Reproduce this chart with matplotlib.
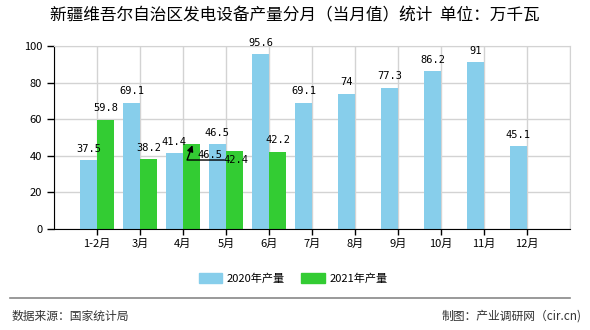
import matplotlib
matplotlib.use('Agg')
import matplotlib.pyplot as plt
import numpy as np
from matplotlib.patches import Patch
from matplotlib.lines import Line2D

plt.rcParams['font.family'] = ['Noto Sans CJK SC', 'DejaVu Sans']

# data
months = ['1-2月', '3月', '4月', '5月', '6月', '7月', '8月', '9月', '10月', '11月', '12月']
output_2020 = [37.5, 69.1, 41.4, 46.5, 95.6, 69.1, 74, 77.3, 86.2, 91, 45.1]
output_2021 = [59.8, 38.2, 46.5, 42.4, 42.2]

c2020 = '#87CEEB'
c2021 = '#33CC33'
w = 0.4

fig = plt.figure(figsize=(5.9, 3.3), dpi=100)
ax = fig.add_axes([54 / 590, 101 / 330, 516 / 590, 183 / 330])

x20 = np.arange(len(output_2020))
x21 = np.arange(len(output_2021))
ax.bar(x20 - w / 2, output_2020, width=w, color=c2020, zorder=2)
ax.bar(x21 + w / 2, output_2021, width=w, color=c2021, zorder=2)

ax.set_xlim(-1, len(months))
ax.set_ylim(0, 100)
ax.set_xticks(x20)
ax.set_xticklabels(months, fontsize=8)
ax.set_yticks(range(0, 101, 20))
ax.tick_params(axis='y', labelsize=8, length=5, width=1)
ax.tick_params(axis='x', length=4, width=1, pad=3)
ax.set_xticks(np.arange(-1, len(months) + 1), minor=True)
ax.grid(True, which='major', axis='both', color='#d3d3d3', lw=1, zorder=0)
ax.grid(True, which='minor', axis='x', color='#d3d3d3', lw=1, zorder=0)
ax.tick_params(which='minor', length=0)
for s in ['top', 'right']:
    ax.spines[s].set_color('#d3d3d3')
for s in ['left', 'bottom']:
    ax.spines[s].set_color('black')

lab = dict(ha='center', va='bottom', fontsize=7.5, family='DejaVu Sans Mono', zorder=4)
for i, v in enumerate(output_2020):
    ax.text(i - w / 2, v + 3.5, f'{v:g}', **lab)
for i, v in enumerate(output_2021):
    if i in (2, 3):
        continue
    ax.text(i + w / 2, v + 3.5, f'{v:g}', **lab)

# displaced labels for april / may 2021
ax.text(2.63, 40.5, f'{output_2021[2]:g}', **{**lab, 'va': 'center'})
ax.text(3.23, 37.8, f'{output_2021[3]:g}', **{**lab, 'va': 'center'})
ax.annotate('', xy=(2.22, 45.8), xytext=(2.96, 37.7),
            arrowprops=dict(arrowstyle='-|>', color='black', lw=1, mutation_scale=9,
                            connectionstyle='angle,angleA=0,angleB=70,rad=0',
                            shrinkA=0, shrinkB=0), zorder=5)

fig.text(295 / 590, 1 - 16 / 330, '新疆维吾尔自治区发电设备产量分月（当月值）统计  单位：万千瓦',
         ha='center', va='center', fontsize=12, color='black')

handles = [Patch(color=c2020, label='2020年产量'), Patch(color=c2021, label='2021年产量')]
fig.legend(handles=handles, loc='center', bbox_to_anchor=(293 / 590, 1 - 278 / 330),
           ncol=2, frameon=False, fontsize=8, handlelength=2.1, handleheight=1.0,
           columnspacing=1.5, handletextpad=0.4)

fig.add_artist(Line2D([10 / 590, 570 / 590], [1 - 298 / 330, 1 - 298 / 330],
                      color='#888888', lw=1.2))
fig.text(12 / 590, 1 - 316 / 330, '数据来源：国家统计局', ha='left', va='center',
         fontsize=8.5, color='#333333')
fig.text(582 / 590, 1 - 316 / 330, '制图：产业调研网（cir.cn)', ha='right', va='center',
         fontsize=8.5, color='#333333')

fig.savefig('out.png', dpi=100)
